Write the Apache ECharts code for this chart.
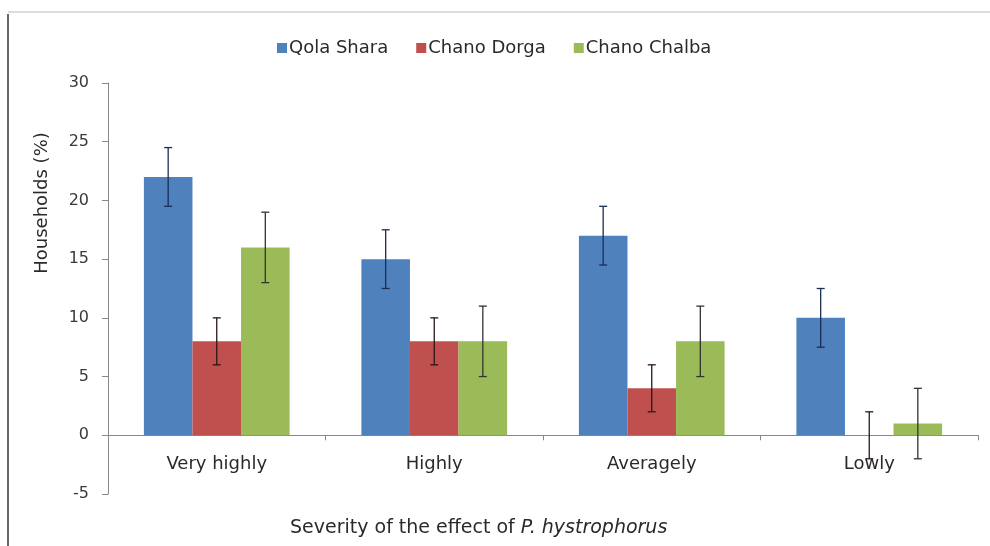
<!DOCTYPE html>
<html>
<head>
<meta charset="utf-8">
<script src="https://cdn.jsdelivr.net/npm/echarts@6/dist/echarts.min.js"></script>
<style>
  html, body { margin: 0; padding: 0; background: #fff; }
  #chart { width: 990px; height: 546px; }
</style>
</head>
<body>
<div id="chart"></div>
<script>
const categories = ['Very highly', 'Highly', 'Averagely', 'Lowly']
const seriesNames = ['Qola Shara', 'Chano Dorga', 'Chano Chalba']
const qolaShara = [22, 15, 17, 10]
const chanoDorga = [8, 8, 4, 0]
const chanoChalba = [16, 8, 8, 1]
const qolaSharaErr = [2.5, 2.5, 2.5, 2.5]
const chanoDorgaErr = [2, 2, 2, 2]
const chanoChalbaErr = [3, 3, 3, 3]

const barColors = ['#4f81bd', '#c0504d', '#9bbb59']
const errColors = ['#1b2d55', '#2a1717', '#333333']
const catGap = 0.33
const font = 'DejaVu Sans, Liberation Sans, sans-serif'

const values = [qolaShara, chanoDorga, chanoChalba]
const errs = [qolaSharaErr, chanoDorgaErr, chanoChalbaErr]

// error bar items: [category, low, high, series index]
const errorData = []
values.forEach((vals, s) => {
  vals.forEach((v, i) => {
    errorData.push([i, v - errs[s][i], v + errs[s][i], s])
  })
})

function renderError(params, api) {
  const cat = api.value(0)
  const s = api.value(3)
  const lowPt = api.coord([cat, api.value(1)])
  const highPt = api.coord([cat, api.value(2)])
  const bandW = api.size([1, 0])[0]
  const barW = bandW * (1 - catGap) / 3
  const x = lowPt[0] + (s - 1) * barW
  const cap = 4
  const style = { stroke: errColors[s], lineWidth: 1.3 }
  return {
    type: 'group',
    children: [
      { type: 'line', shape: { x1: x, y1: highPt[1], x2: x, y2: lowPt[1] }, style },
      { type: 'line', shape: { x1: x - cap, y1: highPt[1], x2: x + cap, y2: highPt[1] }, style },
      { type: 'line', shape: { x1: x - cap, y1: lowPt[1], x2: x + cap, y2: lowPt[1] }, style }
    ]
  }
}

const chart = echarts.init(document.getElementById('chart'))

chart.setOption({
  animation: false,
  textStyle: { fontFamily: font },
  legend: {
    top: 34,
    left: 272,
    itemWidth: 10,
    itemHeight: 10,
    itemGap: 28,
    icon: 'rect',
    textStyle: { fontSize: 18, color: '#2a2a2a', padding: [0, 0, 0, -3] },
    data: seriesNames
  },
  grid: { left: 108, right: 12, top: 83, bottom: 52 },
  xAxis: {
    type: 'category',
    data: categories,
    axisLine: { onZero: true, lineStyle: { color: '#888' } },
    axisTick: { show: true, length: 5, lineStyle: { color: '#888' } },
    axisLabel: { fontSize: 18, color: '#2a2a2a', margin: -39 }
  },
  yAxis: {
    type: 'value',
    min: -5,
    max: 30,
    interval: 5,
    splitLine: { show: false },
    axisLine: { show: true, lineStyle: { color: '#888' } },
    axisTick: { show: true, length: 6, lineStyle: { color: '#888' } },
    axisLabel: { fontSize: 16, color: '#3a3a3a', margin: 19 }
  },
  title: {
    left: 285,
    top: 514,
    text: '{a|Severity of the effect of }{b|P. hystrophorus}',
    textStyle: {
      rich: {
        a: { fontSize: 19, color: '#2a2a2a', fontWeight: 'normal', fontFamily: font },
        b: { fontSize: 19, color: '#2a2a2a', fontWeight: 'normal', fontStyle: 'italic', fontFamily: font }
      }
    }
  },
  graphic: [
    {
      type: 'text',
      x: 42,
      y: 203,
      rotation: Math.PI / 2,
      style: {
        text: 'Households (%)',
        fontSize: 18,
        fill: '#2a2a2a',
        align: 'center',
        verticalAlign: 'middle',
        fontFamily: font
      }
    },
    { type: 'line', shape: { x1: 8, y1: 14, x2: 8, y2: 546 }, style: { stroke: '#333', lineWidth: 1.5 } },
    { type: 'line', shape: { x1: 8, y1: 12, x2: 990, y2: 12 }, style: { stroke: '#ddd', lineWidth: 2 } }
  ],
  series: [
    ...seriesNames.map((name, s) => ({
      name,
      type: 'bar',
      data: values[s],
      barGap: '0%',
      barCategoryGap: (catGap * 100) + '%',
      itemStyle: { color: barColors[s] }
    })),
    {
      type: 'custom',
      renderItem: renderError,
      data: errorData,
      z: 10,
      silent: true
    }
  ]
})
</script>
</body>
</html>
